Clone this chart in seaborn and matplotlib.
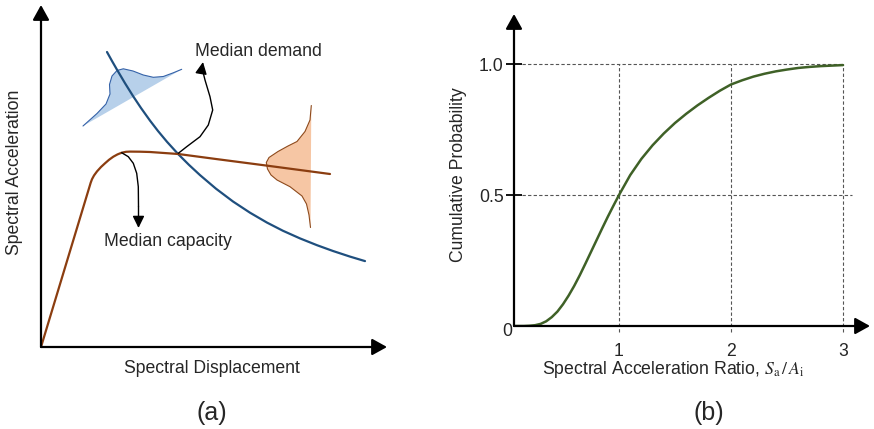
import matplotlib
matplotlib.use("Agg")
import matplotlib.pyplot as plt
import seaborn as sns

# ---------------- Panel (a): schematic (schematic units) ----
demand_x = [66, 71, 76, 84, 92, 100, 109, 117, 126, 137, 148, 159, 175, 192, 209,
            226, 242, 259, 276, 292, 309, 324]
demand_y = [295, 286, 277.3, 263.8, 251, 239, 226.4, 216, 205.2, 193.1, 182.1, 171.9,
            158.3, 145.5, 134.3, 124.4, 116.2, 108.6, 101.8, 96, 90.4, 85.9]

capacity_x = [0, 49.7, 51, 53, 56, 60, 64, 68, 72.3, 76.5, 80.7, 85, 89, 99, 109,
              137.3, 175.7, 225.7, 289]
capacity_y = [0, 164.3, 167.8, 171.5, 175.6, 180, 183.7, 187.2, 190.3, 192.6, 194.3,
              195.2, 195.4, 195.3, 195, 193, 187.9, 181.4, 173]

demand_pdf_x = [42, 56, 65, 69, 68.5, 71, 76, 82.3, 92, 102.3, 112.3, 122.3, 132.3, 140.7]
demand_pdf_y = [221, 233.5, 243, 253, 262.5, 271, 276.5, 278.2, 276, 272, 269.7, 270.5, 274.2, 277.7]

capacity_pdf_x = [270.3, 269, 264, 256, 247, 237, 228, 225.3, 226.5, 230, 236, 249, 261, 265.5, 268, 269.5]
capacity_pdf_y = [241.5, 227, 215.5, 205.5, 201, 195.5, 189.5, 184.5, 178, 172, 167, 160.3, 151, 143, 132, 119.5]

demand_note_x = [137.3, 145.7, 159, 167.3, 171.7, 169, 164, 161]
demand_note_y = [193.7, 200.3, 210.3, 222, 237, 250.3, 267, 279]
demand_note_tip = (162, 285)

capacity_note_x = [80.7, 87.3, 92.3, 95.7, 97.3, 97.5]
capacity_note_y = [194.3, 190.3, 183.7, 173.7, 160.3, 140.3]
capacity_note_tip = (97.5, 119)

# ---------------- Panel (b): cumulative probability curve ----------------------
cdf_x = [0.0625, 0.15, 0.2, 0.25, 0.3, 0.35, 0.4, 0.45, 0.5, 0.55, 0.6, 0.65, 0.7,
         0.75, 0.8, 0.85, 0.9, 0.95, 1.0, 1.1, 1.2, 1.3, 1.4, 1.5, 1.6, 1.7, 1.8,
         1.9, 2.0, 2.1, 2.2, 2.3, 2.4, 2.5, 2.6, 2.7, 2.8, 2.9, 3.0]
cdf_y = [0.0, 0.0, 0.001, 0.003, 0.008, 0.018, 0.034, 0.055, 0.083, 0.116, 0.153,
         0.194, 0.238, 0.283, 0.328, 0.373, 0.417, 0.459, 0.5, 0.576, 0.638, 0.69,
         0.735, 0.775, 0.81, 0.842, 0.871, 0.898, 0.922, 0.938, 0.952, 0.963, 0.972,
         0.979, 0.985, 0.989, 0.992, 0.994, 0.996]
x_ticks = [1, 2, 3]
x_tick_labels = ["1", "2", "3"]
y_ticks = [0.5, 1.0]
y_tick_labels = ["0.5", "1.0"]

# ---------------- style ------------------------------------------------------
sns.set_style("white")
plt.rcParams['font.family'] = ['Liberation Sans', 'DejaVu Sans']
plt.rcParams['mathtext.fontset'] = 'stix'
FS = 12.7

BLUE = "#1f4f7e"
BROWN = "#8b3d10"
BLUE_FILL = "#b7d0ea"
BLUE_EDGE = "#3562a8"
ORANGE_FILL = "#f6c6a4"
ORANGE_EDGE = "#8e4a1c"
GREEN = "#3f6127"
GRID = "#555555"

W, H = 874, 429
fig = plt.figure(figsize=(W / 100, H / 100), dpi=100)


def rect(l, t, r, b):
    return [l / W, 1 - b / H, (r - l) / W, (b - t) / H]


axis_arrow = dict(arrowstyle="-|>,head_length=0.45,head_width=0.25",
                  mutation_scale=20, lw=1.6, color="black", shrinkA=0, shrinkB=0)
note_arrow = dict(arrowstyle="-|>,head_length=0.45,head_width=0.22",
                  mutation_scale=16, lw=1.0, color="black", shrinkA=0, shrinkB=0)

# ---------------- Panel (a) --------------------------------------------------
axa = fig.add_axes(rect(41, 5, 387, 347))
axa.set_xlim(0, 346)
axa.set_ylim(0, 342)
for s in axa.spines.values():
    s.set_visible(False)
axa.set_xticks([])
axa.set_yticks([])

axa.fill(demand_pdf_x, demand_pdf_y, color=BLUE_FILL, lw=0, zorder=1)
axa.plot(demand_pdf_x, demand_pdf_y, color=BLUE_EDGE, lw=0.8, zorder=2)
axa.fill(capacity_pdf_x, capacity_pdf_y, color=ORANGE_FILL, lw=0, zorder=1)
axa.plot(capacity_pdf_x, capacity_pdf_y, color=ORANGE_EDGE, lw=0.8, zorder=2)

sns.lineplot(x=demand_x, y=demand_y, sort=False, estimator=None, color=BLUE,
             lw=1.6, ax=axa, zorder=3)
sns.lineplot(x=capacity_x, y=capacity_y, sort=False, estimator=None, color=BROWN,
             lw=1.6, ax=axa, zorder=3)

axa.plot(demand_note_x, demand_note_y, color="black", lw=1.0, zorder=4)
axa.annotate("", xy=demand_note_tip, xytext=(demand_note_x[-1], demand_note_y[-1]),
             arrowprops=note_arrow, zorder=4)
axa.plot(capacity_note_x, capacity_note_y, color="black", lw=1.0, zorder=4)
axa.annotate("", xy=capacity_note_tip, xytext=(capacity_note_x[-1], capacity_note_y[-1]),
             arrowprops=note_arrow, zorder=4)

axa.text(154, 295, "Median demand", fontsize=FS, ha="left", va="center")
axa.text(63, 105, "Median capacity", fontsize=FS, ha="left", va="center")

axa.annotate("", xy=(1, 0), xytext=(0, 0), xycoords="axes fraction",
             textcoords="axes fraction", arrowprops=axis_arrow, annotation_clip=False)
axa.annotate("", xy=(0, 1), xytext=(0, 0), xycoords="axes fraction",
             textcoords="axes fraction", arrowprops=axis_arrow, annotation_clip=False)

axa.text(0.494, -0.064, "Spectral Displacement", fontsize=FS, ha="center",
         va="center", transform=axa.transAxes)
axa.text(-0.078, 0.512, "Spectral Acceleration", fontsize=FS, ha="center",
         va="center", rotation=90, transform=axa.transAxes)

# ---------------- Panel (b) --------------------------------------------------
axb = fig.add_axes(rect(514, 14, 870, 326))
axb.set_xlim(0.0625, 3.241)
axb.set_ylim(0, 1.191)
for s in axb.spines.values():
    s.set_visible(False)

dash = (0, (3, 2))
for v in x_ticks:
    axb.plot([v, v], [-0.023, 1.0], ls=dash, color=GRID, lw=0.8, clip_on=False, zorder=1)
axb.plot([0.137, 3.0], [1.0, 1.0], ls=dash, color=GRID, lw=0.8, zorder=1)
axb.plot([0.137, 3.08], [0.5, 0.5], ls=dash, color=GRID, lw=0.8, zorder=1)

sns.lineplot(x=cdf_x, y=cdf_y, color=GREEN, lw=1.8, ax=axb, zorder=3)

axb.annotate("", xy=(1, 0), xytext=(0, 0), xycoords="axes fraction",
             textcoords="axes fraction", arrowprops=axis_arrow, annotation_clip=False)
axb.annotate("", xy=(0, 1), xytext=(0, 0), xycoords="axes fraction",
             textcoords="axes fraction", arrowprops=axis_arrow, annotation_clip=False)

axb.set_xticks(x_ticks)
axb.set_xticklabels(x_tick_labels)
axb.tick_params(axis="x", bottom=True, length=0, pad=12, labelsize=FS)
axb.set_yticks(y_ticks)
axb.set_yticklabels(y_tick_labels)
axb.tick_params(axis="y", left=True, direction="inout", length=12, width=1.3,
                pad=1.5, labelsize=FS, color="black")
axb.text(0.0, -0.02, "0", fontsize=FS, ha="center", va="center")

axb.set_xlabel(r"Spectral Acceleration Ratio, $S_\mathrm{a}\,/\,A_\mathrm{i}$", fontsize=FS)
axb.xaxis.set_label_coords(0.447, -0.138)
axb.xaxis.label.set_va("center")
axb.set_ylabel("Cumulative Probability", fontsize=FS)
axb.yaxis.set_label_coords(-0.157, 0.486)
axb.yaxis.label.set_va("center")

fig.text(212 / W, 1 - 413 / H, "(a)", fontsize=18, ha="center", va="center")
fig.text(709 / W, 1 - 413 / H, "(b)", fontsize=18, ha="center", va="center")

fig.savefig("out.png", dpi=100)
